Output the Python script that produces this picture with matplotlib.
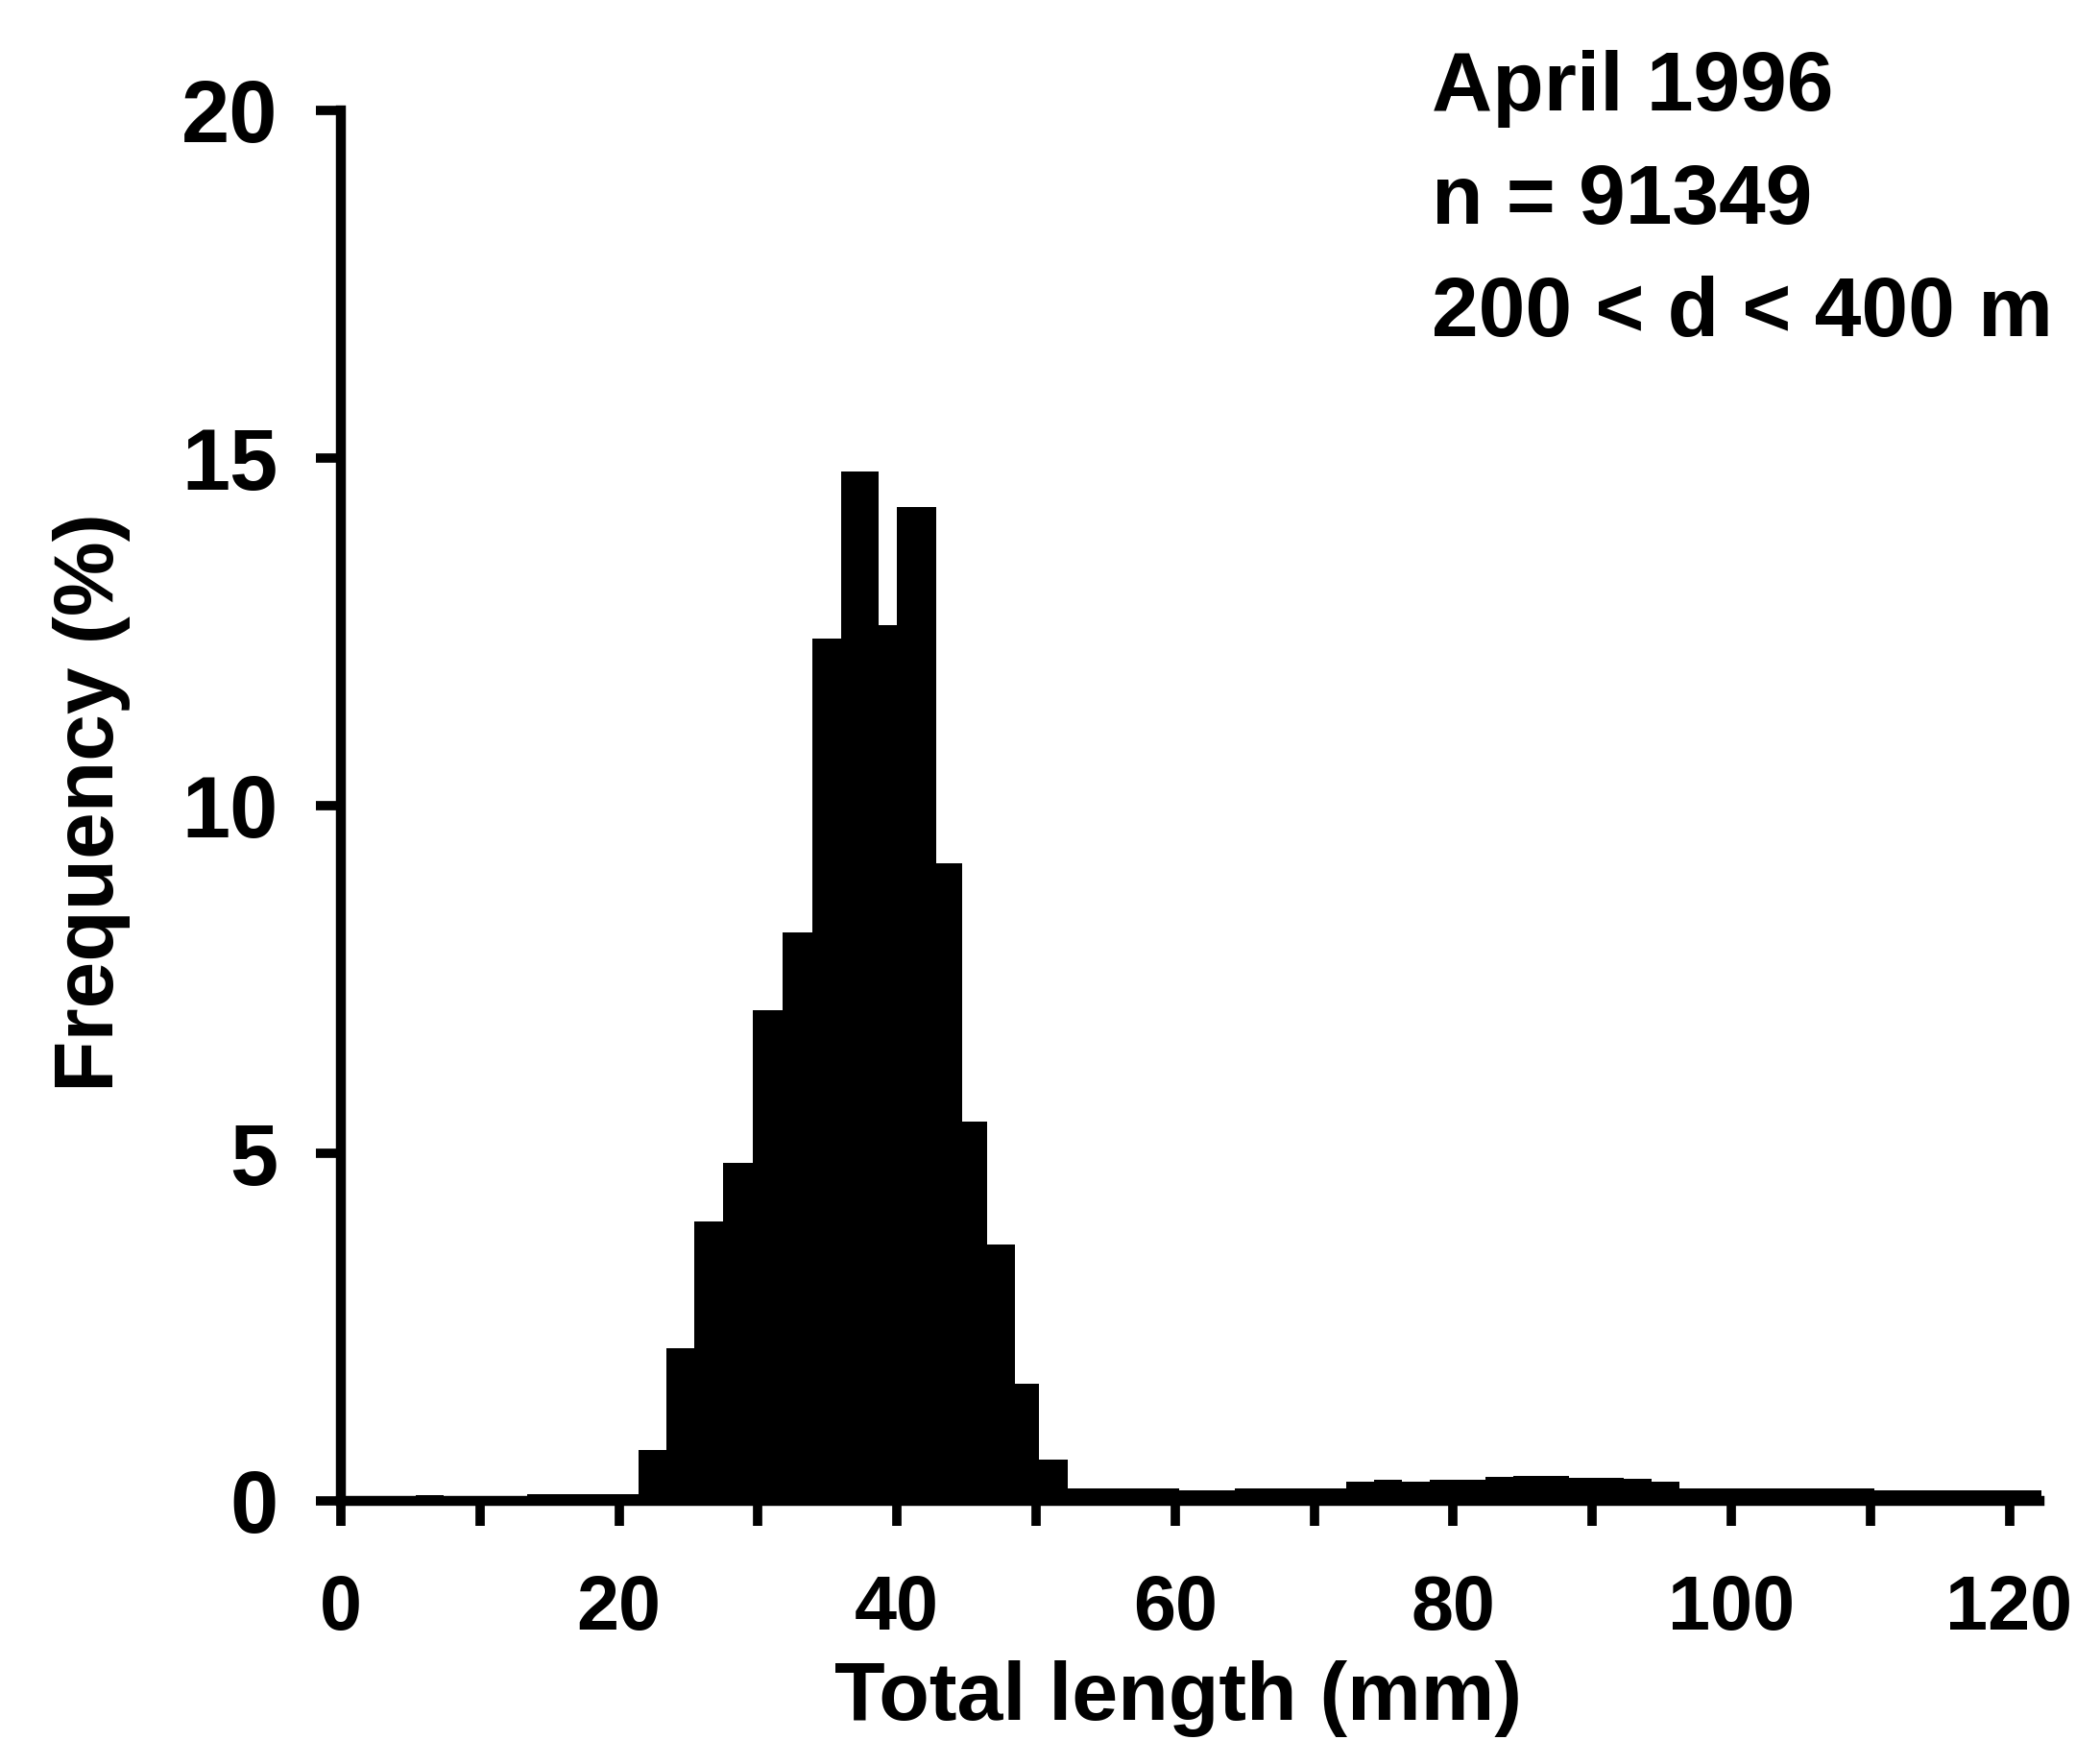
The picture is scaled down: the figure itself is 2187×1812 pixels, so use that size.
import numpy as np
import matplotlib
matplotlib.use("Agg")
import matplotlib.pyplot as plt

plt.rcParams['font.family'] = ['Liberation Sans', 'DejaVu Sans']
plt.rcParams['font.weight'] = 'bold'

# ---- data ----
# left tail (near-zero), main mode, right tail; bin edges in mm, frequencies in %
left_edges = [0.0, 1.4, 3.4, 5.4, 7.4, 9.4, 11.4, 13.4, 15.4, 17.4, 19.4]
left_freq = [0.04, 0.05, 0.05, 0.08, 0.05, 0.05, 0.05, 0.10, 0.10, 0.10, 0.10]

main_edges = [21.4, 23.4, 25.4, 27.5, 29.6, 31.8, 33.9, 36.0, 38.7, 40.0,
              42.8, 44.7, 46.5, 48.5, 50.2]
main_freq = [0.73, 2.20, 4.02, 4.86, 7.06, 8.17, 12.40, 14.81, 12.60, 14.30,
             9.17, 5.46, 3.69, 1.69, 0.60]

right_edges = [52.3, 54.3, 56.3, 58.3, 60.3, 62.3, 64.3, 66.3, 68.3, 70.3,
               72.3, 74.3, 76.3, 78.3, 80.3, 82.3, 84.3, 86.3, 88.3, 90.3,
               92.3, 94.3, 96.3, 98.3, 100.3, 102.3, 104.3, 106.3, 108.3,
               110.3, 112.3, 114.3, 116.3, 118.3, 120.3]
right_freq = [0.18, 0.18, 0.18, 0.18, 0.15, 0.15, 0.18, 0.18, 0.18, 0.18,
              0.27, 0.30, 0.27, 0.30, 0.31, 0.35, 0.36, 0.36, 0.33, 0.33,
              0.32, 0.27, 0.18, 0.18, 0.18, 0.18, 0.18, 0.18, 0.18,
              0.15, 0.15, 0.15, 0.15, 0.15, 0.15]
last_edge = 122.3

x_ticks = [0, 20, 40, 60, 80, 100, 120]
x_minor = [10, 30, 50, 70, 90, 110]
y_ticks = [0, 5, 10, 15, 20]

annotation = ["April 1996", "n = 91349", "200 < d < 400 m"]
xlabel = "Total length (mm)"
ylabel = "Frequency (%)"

# ---- figure ----
W, H = 2187, 1812
fig = plt.figure(figsize=(W / 100, H / 100), dpi=100)
ax = fig.add_axes([318.8 / W, 249 / H, 1817.2 / W, 1448 / H])

edges = np.array(left_edges + main_edges + right_edges + [last_edge])
freq = np.array(left_freq + main_freq + right_freq)
ax.stairs(freq, edges, fill=True, color='black', linewidth=0)

ax.set_xlim(-2.5, 123)
ax.set_ylim(0, 20)

for s in ['top', 'right']:
    ax.spines[s].set_visible(False)
ax.spines['left'].set_position(('data', 0))
ax.spines['left'].set_bounds(0, 20)
ax.spines['bottom'].set_bounds(0, last_edge - 0.1)
for s in ['left', 'bottom']:
    ax.spines[s].set_linewidth(7.5)
    ax.spines[s].set_color('black')
    ax.spines[s].set_zorder(3)

ax.set_xticks(x_ticks)
ax.set_xticks(x_minor, minor=True)
ax.set_yticks(y_ticks)
ax.set_xticklabels([str(v) for v in x_ticks])
ax.set_yticklabels([str(v) for v in y_ticks])

ax.tick_params(axis='both', which='both', direction='out', length=19, width=7,
               color='black', labelcolor='black')
ax.tick_params(axis='x', which='major', pad=36, labelsize=57)
ax.tick_params(axis='y', which='major', pad=28, labelsize=65)

fig.text(136 / W, 1 - 836 / H, ylabel, rotation=90, ha='right', va='center',
         fontsize=63, fontweight='bold')
fig.text(1227 / W, 1 - 1791 / H, xlabel, ha='center', va='baseline',
         fontsize=62, fontweight='bold')

for i, line in enumerate(annotation):
    fig.text(1491 / W, 1 - (115 + 117.5 * i) / H, line, ha='left', va='baseline',
             fontsize=63, fontweight='bold')

fig.savefig("out.png", dpi=100, facecolor='white')
